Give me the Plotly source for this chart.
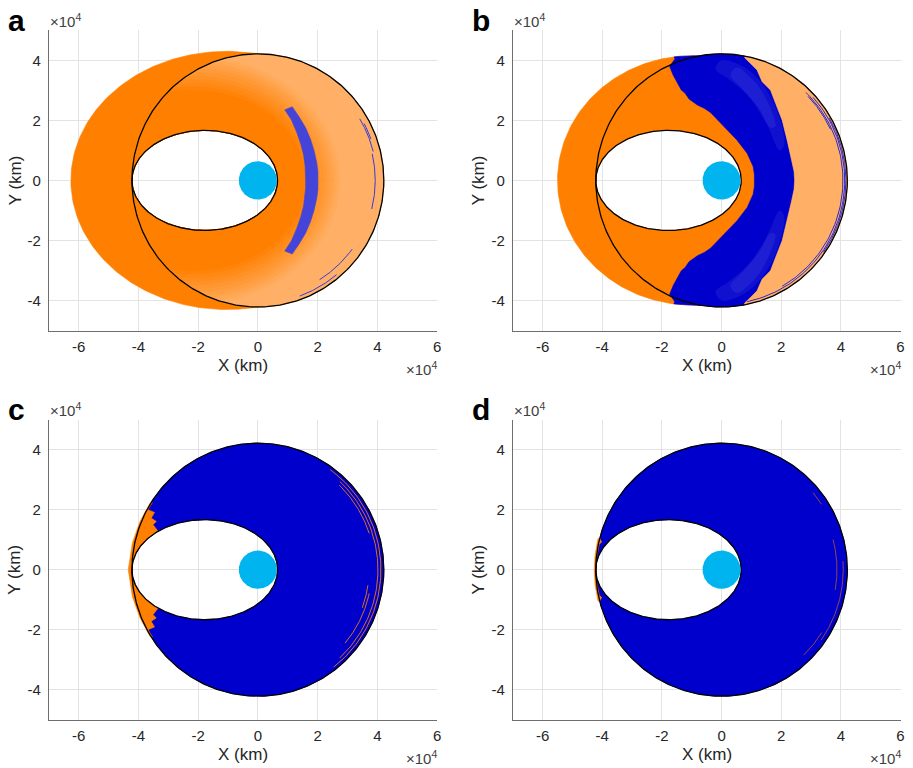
import numpy as np
import plotly.graph_objects as go

# ---------------- orbit geometry (km) ----------------
R_GEO = 42164.0
R_EARTH = 6378.0
GTO_RP, GTO_RA = 6600.0, 42164.0

# outer reach of the swept region: centre x, semi-axis x, semi-axis y
ENV_A = [-10500, 52100, 43000]
ENV_B = [-10000, 45000, 41500]

# panel a: shading layers around the transfer orbit (outermost first)
SHADE_CX = -22000
SHADE_SX = [49500, 48400, 47300, 46200, 45100, 44000, 42800, 41600, 40400, 39200, 38000]
SHADE_SY = [41500, 40500, 39400, 38300, 37200, 36000, 34800, 33600, 32400, 31200, 30000]
SHADE_COL = ["#FFAC5E", "#FFA855", "#FFA34B", "#FF9F42", "#FF9A38", "#FF962F",
             "#FF9226", "#FF8D1C", "#FF8913", "#FF8409", "#FF8000"]

# panel a: blue crescent (upper half, tip to axis)
CRES_OUT_X = [11500, 13800, 16000, 17600, 18800, 19700, 20100, 20200]
CRES_OUT_Y = [24500, 21200, 17500, 13800, 10000, 6000, 3000, 0]
CRES_IN_X = [9000, 11200, 13000, 14400, 15300, 15800, 16000, 16000]
CRES_IN_Y = [23500, 20200, 16000, 12000, 8500, 5000, 2500, 0]

# panel b: orange/blue boundary and blue/light boundary (upper half)
B_LEFT_X = [-15700, -17400, -16200, -14800, -13500, -12200, -10900, -8100, -5800, -3700,
            800, 5200, 8600, 10600, 11000, 11100]
B_LEFT_Y = [40400, 37900, 35000, 32600, 30100, 29000, 27100, 25100, 24000, 22600,
            17900, 13400, 9000, 4600, 2000, 0]
B_RIGHT_X = [7700, 9700, 11900, 13600, 16400, 18100, 20300, 22000, 23500, 24300, 24500]
B_RIGHT_Y = [40900, 39000, 36800, 32900, 30100, 25700, 20100, 13400, 6800, 3000, 0]
B_GLOW_X = [0, 8000, 14500, 19000, 21000, 19500, 15000, 9000, 2000, -2000]
B_GLOW_Y = [40000, 37500, 31000, 22000, 12000, 10000, 19000, 28000, 34000, 37000]
B_CORE_X = [5000, 11000, 15500, 18000, 16500, 12500, 7000, 3000]
B_CORE_Y = [37500, 33000, 26000, 18000, 17500, 24000, 30500, 35000]

# panel c: orange pocket at apogee (upper half)
C_OUT_X = [-36000, -39500, -42000, -43400]
C_OUT_Y = [22400, 16000, 9000, 0]
C_JAG_X = [-35300, -36800, -34600, -35700, -34000, -35100, -33400]
C_JAG_Y = [22400, 20000, 19100, 17200, 16100, 15000, 12800]

# panel d: small orange pocket at apogee
D_OR_X = [-41400, -42400, -42700, -42400, -41400, -40800, -40200, -41000, -41700, -42200,
          -41700, -41000, -40200, -40800]
D_OR_Y = [10500, 5000, 0, -5000, -10500, -10500, -9200, -8500, -5000, 0, 5000, 8500, 9200, 10500]

# thin trajectory arcs near GEO: radius, start deg, end deg
A_ARCS = [[39800, 14, 31], [39300, -14, 13], [40300, 20, 28], [39000, -58, -36], [41000, -70, -50]]
B_ARCS = [[41300, -78, 42], [40700, -60, 46], [41700, -35, 30], [40300, 25, 44]]
C_ARCS = [[41200, -52, 54], [40200, -47, 47], [39200, 18, 46], [38100, -40, -12], [37200, -20, -8]]
D_ARCS = [[40000, 33, 40], [38700, -10, 15], [40800, -35, 4], [39600, -46, -32]]

X_TICKS = [-60000, -40000, -20000, 0, 20000, 40000, 60000]
X_TICK_TEXT = ["-6", "-4", "-2", "0", "2", "4", "6"]
Y_TICKS = [-40000, -20000, 0, 20000, 40000]
Y_TICK_TEXT = ["-4", "-2", "0", "2", "4"]

ORANGE = "#FF8000"
LIGHT_ORANGE = "#FFB066"
BLUE = "#0000CC"
EARTH = "#00B4F0"
FONT = "Arial, Liberation Sans, Helvetica, sans-serif"

W, H = 913, 768
# plot-area pixel boxes: left, right, top, bottom
BOXES = {"a": (49, 439, 30.3, 330.5), "b": (515, 904.5, 30.3, 330.5),
         "c": (49, 439, 419.7, 719.7), "d": (515, 904.5, 419.7, 719.7)}

# ---------------- helpers ----------------
GTO_A = (GTO_RP + GTO_RA) / 2
GTO_B = np.sqrt(GTO_RP * GTO_RA)
GTO_C = (GTO_RP - GTO_RA) / 2
TH = np.linspace(0, 2 * np.pi, 361)


def ray_ellipse(theta, cx, sx, sy):
    c, s = np.cos(theta), np.sin(theta)
    A = c**2 / sx**2 + s**2 / sy**2
    B = -2 * cx * c / sx**2
    C = cx**2 / sx**2 - 1
    return (-B + np.sqrt(B**2 - 4 * A * C)) / (2 * A)


def gto_hole():
    t = TH[::-1]
    return GTO_C + GTO_A * np.cos(t), GTO_B * np.sin(t)


def ring(ox, oy):
    ix, iy = gto_hole()
    X = list(ox) + [ox[0], ix[0]] + list(ix) + [ix[0], ox[0]]
    Y = list(oy) + [oy[0], iy[0]] + list(iy) + [iy[0], oy[0]]
    return X, Y


def env_r(theta, env):
    return np.maximum(R_GEO, ray_ellipse(theta, *env))


def mirror(xs, ys):
    xs, ys = list(xs), list(ys)
    return xs + xs[-2::-1], ys + [-v for v in ys[-2::-1]]


fig = go.Figure()


def add_fill(k, X, Y, color, shape="linear", edge=0.6):
    fig.add_trace(go.Scatter(x=X, y=Y, mode="lines", fill="toself", fillcolor=color,
                             line=dict(width=edge, color=color, shape=shape),
                             xaxis=k[0], yaxis=k[1], hoverinfo="skip", showlegend=False))


def add_line(k, X, Y, color, width):
    fig.add_trace(go.Scatter(x=X, y=Y, mode="lines", line=dict(width=width, color=color),
                             xaxis=k[0], yaxis=k[1], hoverinfo="skip", showlegend=False))


def add_arcs(k, arcs, color):
    for r, d0, d1 in arcs:
        t = np.radians(np.linspace(d0, d1, 80))
        add_line(k, r * np.cos(t), r * np.sin(t), color, 1)


def env_arc(env, t0, t1):
    t = np.linspace(t0, t1, 60)
    r = env_r(t, env)
    return list(r * np.cos(t)), list(r * np.sin(t))


def finish(k):
    # transfer orbit, GEO ring and the Earth
    add_line(k, GTO_C + GTO_A * np.cos(TH), GTO_B * np.sin(TH), "black", 1.3)
    add_line(k, R_GEO * np.cos(TH), R_GEO * np.sin(TH), "black", 1.3)
    fig.add_trace(go.Scatter(x=R_EARTH * np.cos(TH), y=R_EARTH * np.sin(TH), mode="lines",
                             fill="toself", fillcolor=EARTH, line=dict(width=0, color=EARTH),
                             xaxis=k[0], yaxis=k[1], hoverinfo="skip", showlegend=False))


# ---------------- panel a ----------------
ka = ("x", "y")
r = env_r(TH, ENV_A)
add_fill(ka, *ring(r * np.cos(TH), r * np.sin(TH)), ORANGE)
add_fill(ka, *ring(R_GEO * np.cos(TH), R_GEO * np.sin(TH)), LIGHT_ORANGE)
for sx, sy, col in zip(SHADE_SX, SHADE_SY, SHADE_COL):
    rr = np.minimum(ray_ellipse(TH, SHADE_CX, sx, sy), R_GEO)
    add_fill(ka, *ring(rr * np.cos(TH), rr * np.sin(TH)), col)
ox, oy = mirror(CRES_OUT_X, CRES_OUT_Y)
ix, iy = mirror(CRES_IN_X, CRES_IN_Y)
add_fill(ka, ox + ix[::-1] + [ox[0]], oy + iy[::-1] + [oy[0]], "#4444D8")
add_arcs(ka, A_ARCS, "#3A3AD8")
finish(ka)

# ---------------- panel b ----------------
kb = ("x2", "y2")
r = env_r(TH, ENV_B)
add_fill(kb, *ring(r * np.cos(TH), r * np.sin(TH)), ORANGE)
lx, ly = mirror(B_LEFT_X, B_LEFT_Y)
rx, ry = mirror(B_RIGHT_X, B_RIGHT_Y)
tl, bl = np.arctan2(ly[0], lx[0]), np.arctan2(ly[-1], lx[-1])
tr, br = np.arctan2(ry[0], rx[0]), np.arctan2(ry[-1], rx[-1])
ax1, ay1 = env_arc(ENV_B, bl + 2 * np.pi, br + 2 * np.pi)
ax2, ay2 = env_arc(ENV_B, tr, tl)
add_fill(kb, lx + ax1 + rx[::-1] + ax2, ly + ay1 + ry[::-1] + ay2, BLUE)
ax3, ay3 = env_arc(ENV_B, br, tr)
add_fill(kb, rx + ax3, ry + ay3, LIGHT_ORANGE)
for gx, gy, col in [(B_GLOW_X, B_GLOW_Y, "rgba(120,120,235,0.13)"),
                    (B_CORE_X, B_CORE_Y, "rgba(130,130,240,0.13)")]:
    add_fill(kb, gx + [gx[0]], gy + [gy[0]], col, "spline", 0)
    add_fill(kb, gx + [gx[0]], [-v for v in gy] + [-gy[0]], col, "spline", 0)
add_arcs(kb, B_ARCS, "#2A2AD0")
finish(kb)

# ---------------- panel c ----------------
kc = ("x3", "y3")
add_fill(kc, *ring(R_GEO * np.cos(TH), R_GEO * np.sin(TH)), BLUE)
add_arcs(kc, C_ARCS, "rgba(255,128,0,0.85)")
outx, outy = mirror(C_OUT_X, C_OUT_Y)
t_top = np.arctan2(C_JAG_Y[-1] / GTO_B, (C_JAG_X[-1] - GTO_C) / GTO_A)
t_arc = np.linspace(2 * np.pi - t_top, t_top, 40)
px = outx + C_JAG_X + list(GTO_C + GTO_A * np.cos(t_arc)) + C_JAG_X[::-1]
py = outy + [-v for v in C_JAG_Y] + list(GTO_B * np.sin(t_arc)) + C_JAG_Y[::-1]
add_fill(kc, px, py, ORANGE)
finish(kc)

# ---------------- panel d ----------------
kd = ("x4", "y4")
add_fill(kd, *ring(R_GEO * np.cos(TH), R_GEO * np.sin(TH)), BLUE)
add_arcs(kd, D_ARCS, "rgba(255,128,0,0.55)")
add_fill(kd, D_OR_X, D_OR_Y, ORANGE)
finish(kd)

# ---------------- layout ----------------
layout = dict(width=W, height=H, margin=dict(l=0, r=0, t=0, b=0),
              paper_bgcolor="white", plot_bgcolor="white", showlegend=False)
annotations = []
for i, name in enumerate(["a", "b", "c", "d"]):
    l, rt, t, b = BOXES[name]
    sfx = "" if i == 0 else str(i + 1)
    common = dict(showgrid=True, gridcolor="#E3E3E3", gridwidth=1, zeroline=False,
                  showline=True, linecolor="#6E6E6E", linewidth=1, ticks="",
                  tickfont=dict(family=FONT, size=15, color="#262626"), fixedrange=True)
    layout["xaxis" + sfx] = dict(common, domain=[l / W, rt / W], range=[-70000, 60000],
                                 tickvals=X_TICKS, ticktext=X_TICK_TEXT, anchor="y" + sfx,
                                 ticklabelstandoff=2)
    layout["yaxis" + sfx] = dict(common, domain=[1 - b / H, 1 - t / H], range=[-50000, 50000],
                                 tickvals=Y_TICKS, ticktext=Y_TICK_TEXT, anchor="x" + sfx,
                                 ticklabelstandoff=4)
    base = dict(xref="paper", yref="paper", showarrow=False)
    annotations.append(dict(base, x=(l - 43) / W, y=1 - (t - 10) / H, text="<b>%s</b>" % name,
                            xanchor="left", yanchor="middle",
                            font=dict(family=FONT, size=30, color="black")))
    annotations.append(dict(base, x=(l - 1) / W, y=1 - (t - 10) / H, text="×10<sup>4</sup>",
                            xanchor="left", yanchor="middle",
                            font=dict(family=FONT, size=15, color="#404040")))
    annotations.append(dict(base, x=(rt + 2) / W, y=1 - (b + 38) / H, text="×10<sup>4</sup>",
                            xanchor="right", yanchor="middle",
                            font=dict(family=FONT, size=15, color="#404040")))
    annotations.append(dict(base, x=(l + rt) / 2 / W, y=1 - (b + 35) / H, text="X (km)",
                            xanchor="center", yanchor="middle",
                            font=dict(family=FONT, size=17, color="#262626")))
    annotations.append(dict(base, x=(l - 34) / W, y=1 - (t + b) / 2 / H, text="Y (km)",
                            textangle=-90, xanchor="center", yanchor="middle",
                            font=dict(family=FONT, size=17, color="#262626")))
layout["annotations"] = annotations
fig.update_layout(**layout)
fig.write_html("out.html")
